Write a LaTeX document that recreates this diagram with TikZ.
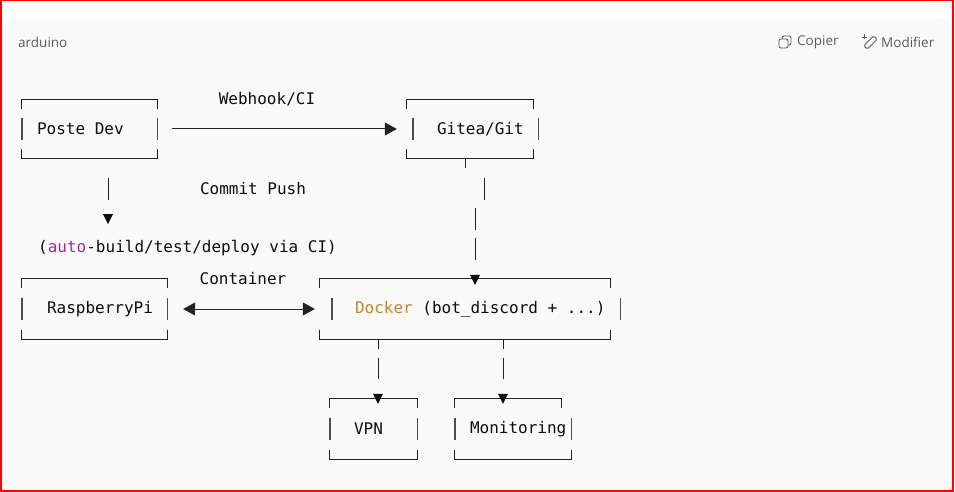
\documentclass[tikz,border=0pt]{standalone}
\usepackage{fontspec}
\setmainfont{Open Sans}
\newfontfamily\codefont{DejaVu Sans Mono}
\usetikzlibrary{arrows.meta}

\definecolor{panel}{HTML}{F9F9F9}
\definecolor{ink}{HTML}{0D0D0D}
\definecolor{lineink}{HTML}{222222}
\definecolor{hdrgray}{HTML}{5D5D5D}
\definecolor{autopurple}{HTML}{A626A4}
\definecolor{dockerorange}{HTML}{C4862A}

\tikzset{
  frame/.style={inner sep=0pt, minimum height=60pt},
  code/.style={font=\codefont\fontsize{16}{18}\selectfont, text=ink, inner sep=0pt},
  hdr/.style={font=\fontsize{13.5}{15}\selectfont, text=hdrgray, inner sep=0pt},
  frameline/.style={draw=lineink, line width=1pt},
  barline/.style={draw=lineink!80, line width=1.4pt},
  conn/.style={draw=lineink, line width=1pt},
  bigtip/.tip={Triangle[length=12pt,width=13pt]},
  downtip/.pic={\fill[ink] (-5,-5) -- (5,-5) -- (0,5) -- cycle;}
}

% broken ascii frame: node, left bar shift, right bar shift, top right cut
\newcommand{\asciiframe}[4]{%
  \draw[frameline] ([yshift=-9pt]#1.north west) -- (#1.north west)
    -- ([xshift=-#4]#1.north east) -- ([xshift=-#4,yshift=-9pt]#1.north east);
  \draw[frameline] ([yshift=9pt]#1.south west) -- (#1.south west)
    -- (#1.south east) -- ([yshift=9pt]#1.south east);
  \draw[barline] ([xshift=#2,yshift=11pt]#1.west) -- ([xshift=#2,yshift=-11pt]#1.west);
  \draw[barline] ([xshift=#3,yshift=11pt]#1.east) -- ([xshift=#3,yshift=-11pt]#1.east);
}

\begin{document}
\begin{tikzpicture}[x=1pt,y=-1pt]
\useasboundingbox (0,0) rectangle (955,492);
\begin{scope}
  \clip (0,0) rectangle (955,492);
  \fill[white] (0,0) rectangle (955,492);
  \fill[panel, rounded corners=14pt] (2,18) rectangle (951,520);
\end{scope}
\draw[red, line width=1.5pt] (0.75,0.75) rectangle (953,491);

% header
\node[hdr, anchor=west] (lang) at (18,42) {arduino};
\node[hdr, anchor=west] (copy) at (797,42) {Copier};
\node[hdr, anchor=west] (edit) at (881,42) {Modifier};
\draw[hdrgray, line width=0.9pt, rounded corners=2pt] (782,36) rectangle (791,45);
\filldraw[draw=hdrgray, fill=panel, line width=0.9pt, rounded corners=2pt] (779,39) rectangle (788,48);
\node[draw=hdrgray, line width=0.9pt, rounded corners=1.5pt, rotate=45,
  minimum width=14pt, minimum height=5pt, inner sep=0pt] (pencil) at (870.5,42.5) {};
\draw[hdrgray, line width=0.8pt] (861.5,37) -- (866.5,37) (864,34.5) -- (864,39.5);

% boxes
\node[frame, minimum width=135pt, minimum height=58pt] (dev) at (89.5,129) {};
\node[frame, minimum width=126pt, minimum height=58pt] (gitea) at (470,129) {};
\node[frame, minimum width=145pt] (pi) at (94.5,309) {};
\node[frame, minimum width=290pt] (docker) at (465,309) {};
\node[frame, minimum width=87pt] (vpn) at (373.5,429) {};
\node[frame, minimum width=116pt] (mon) at (513,429) {};

\asciiframe{dev}{0pt}{0pt}{0pt}
\asciiframe{gitea}{6pt}{5pt}{0pt}
\asciiframe{pi}{0pt}{0pt}{0pt}
\asciiframe{docker}{12pt}{10pt}{0pt}
\asciiframe{vpn}{0pt}{0pt}{0pt}
\asciiframe{mon}{0pt}{0pt}{10pt}

\node[code, anchor=west] (devtext) at ([xshift=15pt]dev.west) {Poste Dev};
\node[code, anchor=west] (giteatext) at ([xshift=30pt]gitea.west) {Gitea/Git};
\node[code, anchor=west] (pitext) at ([xshift=25pt]pi.west) {RaspberryPi};
\node[code, anchor=west] (dockertext) at ([xshift=35pt]docker.west)
  {\textcolor{dockerorange}{Docker} (bot\_discord + ...)};
\node[code, anchor=west] (vpntext) at ([xshift=24pt]vpn.west) {VPN};
\node[code, anchor=west] (montext) at ([xshift=15pt]mon.west) {Monitoring};

% labels
\node[code] (webhook) at (267,99) {Webhook/CI};
\node[code] (commit) at (253,189) {Commit Push};
\node[code, anchor=west] (ci) at (38,248)
  {(\textcolor{autopurple}{auto}-build/test/deploy via CI)};
\node[code] (container) at (243,279) {Container};

% connectors
\draw[conn, -{bigtip}, shorten <=15pt, shorten >=10pt] (dev) -- (gitea);
\draw[conn, {bigtip}-{bigtip}, shorten <=16pt, shorten >=5pt] (pi) -- (docker);

\draw[conn] ([xshift=18.5pt,yshift=-20pt]dev.south) -- ++(0,22);
\pic at ([xshift=18.5pt,yshift=-61pt]dev.south) {downtip};

\draw[conn] ([xshift=-5pt]gitea.south) -- ++(0,10);
\draw[conn] ([xshift=14pt,yshift=-20pt]gitea.south) -- ++(0,22);
\draw[conn] ([xshift=5pt,yshift=-50pt]gitea.south) -- ++(0,22);
\draw[conn] ([xshift=5pt,yshift=-80pt]gitea.south) -- ++(0,22);
\pic at ([xshift=10pt,yshift=-1pt]docker.north) {downtip};

\draw[conn] ([xshift=-87pt]docker.south) -- ++(0,10);
\draw[conn] ([xshift=-87pt,yshift=-19pt]docker.south) -- ++(0,21);
\pic at ([xshift=4.5pt]vpn.north) {downtip};

\draw[conn] ([xshift=38pt]docker.south) -- ++(0,10);
\draw[conn] ([xshift=38pt,yshift=-19pt]docker.south) -- ++(0,21);
\pic at ([xshift=-10pt]mon.north) {downtip};
\end{tikzpicture}
\end{document}
